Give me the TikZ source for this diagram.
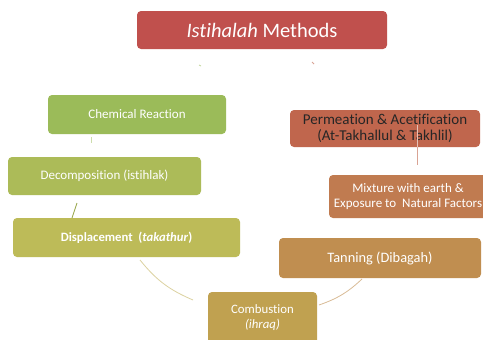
\documentclass[tikz,border=0pt]{standalone}
\usepackage{fontspec}
\setmainfont[Ligatures=NoCommon]{Carlito}
\begin{document}
\begin{tikzpicture}[x=1pt,y=-1pt,
  box/.style={rounded corners=4pt, inner sep=0pt, align=center, text=white, font=\fontsize{13}{15}\selectfont},
  conn/.style={line width=0.8pt}]
\definecolor{ctitle}{HTML}{C0504D}
\definecolor{cchem}{HTML}{9BBB59}
\definecolor{cdec}{HTML}{ACBB58}
\definecolor{cdisp}{HTML}{BDBB58}
\definecolor{ccomb}{HTML}{C0A150}
\definecolor{ctan}{HTML}{C08E50}
\definecolor{cmix}{HTML}{C07B50}
\definecolor{cperm}{HTML}{C0664D}
\useasboundingbox (0,0) rectangle (483,340);
\fill[white] (0,0) rectangle (483,340);
% boxes
\node[box, fill=ctitle, minimum width=250pt, minimum height=38pt, font=\fontsize{20.5}{22}\selectfont] (title) at (262,30) {\textit{Istihalah} Methods};
\node[box, fill=cchem, minimum width=178pt, minimum height=39pt] (chem) at (137,114.5) {Chemical Reaction};
\node[box, fill=cperm, minimum width=190pt, minimum height=37pt, text=black!85, font=\fontsize{15}{16}\selectfont] (perm) at (385,128.5) {Permeation \& Acetification\\(At-Takhallul \& Takhlil)};
\node[box, fill=cdec, minimum width=193pt, minimum height=38pt] (dec) at (104.5,176) {Decomposition (istihlak)};
\node[box, fill=cmix, minimum width=158pt, minimum height=43pt] (mix) at (408,196.5) {Mixture with earth \&\\Exposure to\ \ Natural Factors};
\node[box, fill=cdisp, minimum width=227pt, minimum height=39pt, font=\fontsize{12.7}{15}\selectfont\bfseries] (disp) at (126.5,237.5) {Displacement\ \ (\textit{takathur})};
\node[box, fill=ctan, minimum width=202pt, minimum height=40pt, font=\fontsize{14.4}{16}\selectfont] (tan) at (380,258) {Tanning (Dibagah)};
\node[box, fill=ccomb, minimum width=109pt, minimum height=52pt, font=\fontsize{12.8}{15}\selectfont] (comb) at (262.5,318) {Combustion\\\textit{(ihraq)}};
% connector fragments
\coordinate (a1) at (199,65); \coordinate (a2) at (201,66);
\coordinate (b1) at (312,62); \coordinate (b2) at (314,64);
\coordinate (c1) at (91,137); \coordinate (c2) at (91,143);
\coordinate (d1) at (77,203); \coordinate (d2) at (72,218);
\coordinate (e1) at (140,260); \coordinate (e2) at (193,300);
\coordinate (f1) at (362,279); \coordinate (f2) at (319,305);
\coordinate (g1) at (417,147); \coordinate (g2) at (417,165); \coordinate (g0) at (417,125);
\draw[conn, cchem!60] (a1) -- (a2);
\draw[conn, cperm!60] (b1) -- (b2);
\draw[conn, cchem!50] (c1) -- (c2);
\draw[conn, cdec!90!black] (d1) -- (d2);
\draw[conn, cdisp!50!ccomb!55] (e1) to[bend right=14] (e2);
\draw[conn, ctan!60] (f1) to[bend left=12] (f2);
\draw[conn, cperm!40] (g0) -- (g1);
\draw[conn, cperm!60] (g1) -- (g2);
\end{tikzpicture}
\end{document}
